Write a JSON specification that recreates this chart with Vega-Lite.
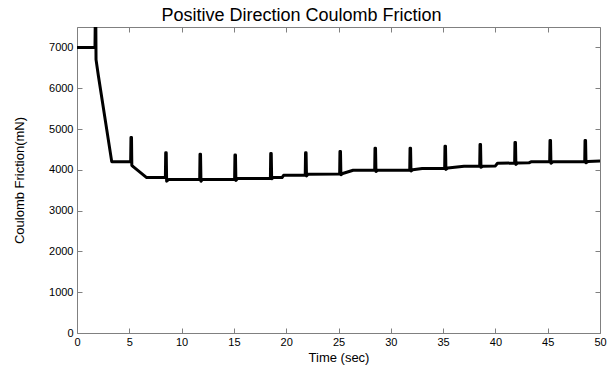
{
  "$schema": "https://vega.github.io/schema/vega-lite/v6.json",
  "autosize": {"type": "none"},
  "width": 523,
  "height": 306,
  "padding": {"left": 77, "top": 27, "right": 11, "bottom": 36},
  "background": "white",
  "config": {"view": {"stroke": null}, "font": "Liberation Sans"},
  "title": {"text": "Positive Direction Coulomb Friction", "fontSize": 18, "fontWeight": "normal", "font": "Liberation Sans", "color": "black", "anchor": "middle", "dx": -37, "offset": 2},
  "data": {"values": [
    {"t":0,"f":7000},{"t":1.72,"f":7000},{"t":1.74,"f":7500},{"t":1.80,"f":7500},{"t":1.82,"f":6700},{"t":2.04,"f":6310},{"t":3.32,"f":4200},{"t":5.13,"f":4200},
    {"t":5.16,"f":4790},{"t":5.21,"f":4790},{"t":5.24,"f":4110},{"t":5.4,"f":4070},{"t":6.66,"f":3810},{"t":8.45,"f":3810},
    {"t":8.48,"f":4420},{"t":8.53,"f":4420},{"t":8.57,"f":3720},{"t":8.75,"f":3760},{"t":11.73,"f":3760},
    {"t":11.76,"f":4380},{"t":11.81,"f":4380},{"t":11.85,"f":3720},{"t":12.0,"f":3765},{"t":15.07,"f":3765},
    {"t":15.1,"f":4360},{"t":15.15,"f":4360},{"t":15.19,"f":3740},{"t":15.35,"f":3785},{"t":18.49,"f":3785},
    {"t":18.52,"f":4400},{"t":18.57,"f":4400},{"t":18.61,"f":3780},{"t":18.75,"f":3810},{"t":19.6,"f":3810},{"t":19.75,"f":3865},{"t":21.82,"f":3870},
    {"t":21.85,"f":4420},{"t":21.9,"f":4420},{"t":21.94,"f":3850},{"t":22.1,"f":3890},{"t":25.11,"f":3900},
    {"t":25.14,"f":4450},{"t":25.19,"f":4450},{"t":25.23,"f":3880},{"t":25.4,"f":3910},{"t":26.4,"f":3990},{"t":28.46,"f":3990},
    {"t":28.49,"f":4530},{"t":28.54,"f":4530},{"t":28.58,"f":3960},{"t":28.75,"f":3990},{"t":31.81,"f":3995},
    {"t":31.84,"f":4530},{"t":31.89,"f":4530},{"t":31.93,"f":3970},{"t":32.1,"f":4000},{"t":33.0,"f":4030},{"t":35.15,"f":4035},
    {"t":35.18,"f":4575},{"t":35.23,"f":4575},{"t":35.27,"f":4010},{"t":35.45,"f":4045},{"t":37.0,"f":4085},{"t":38.5,"f":4085},
    {"t":38.53,"f":4620},{"t":38.58,"f":4620},{"t":38.62,"f":4060},{"t":38.8,"f":4090},{"t":40.0,"f":4095},{"t":40.2,"f":4160},{"t":41.84,"f":4165},
    {"t":41.87,"f":4670},{"t":41.92,"f":4670},{"t":41.96,"f":4130},{"t":42.1,"f":4165},{"t":43.2,"f":4170},{"t":43.4,"f":4195},{"t":45.19,"f":4195},
    {"t":45.22,"f":4720},{"t":45.27,"f":4720},{"t":45.31,"f":4160},{"t":45.5,"f":4195},{"t":48.54,"f":4200},
    {"t":48.57,"f":4720},{"t":48.62,"f":4720},{"t":48.66,"f":4170},{"t":48.85,"f":4205},{"t":50,"f":4215}
  ]},
  "layer": [
    {
      "mark": {"type": "line", "color": "black", "strokeWidth": 3, "clip": true, "strokeJoin": "round", "strokeCap": "butt"},
      "encoding": {
        "x": {"field": "t", "type": "quantitative", "scale": {"domain": [0, 50], "nice": false, "zero": false},
          "axis": {"orient": "bottom", "values": [0,5,10,15,20,25,30,35,40,45,50], "title": "Time (sec)", "titleFontSize": 13, "titleFont": "Liberation Sans", "titleFontWeight": "normal", "titleColor": "black", "titlePadding": 4, "labelFontSize": 11, "labelColor": "black", "labelFont": "Liberation Sans", "tickSize": -5, "labelPadding": 8, "domainColor": "#808080", "tickColor": "#808080", "grid": false, "labelFlush": false}},
        "y": {"field": "f", "type": "quantitative", "scale": {"domain": [0, 7500], "nice": false},
          "axis": {"orient": "left", "values": [0,1000,2000,3000,4000,5000,6000,7000], "title": "Coulomb Friction(mN)", "titleFontSize": 13, "titleFont": "Liberation Sans", "titleFontWeight": "normal", "titleColor": "black", "titlePadding": 22, "labelFontSize": 11, "labelColor": "black", "labelFont": "Liberation Sans", "tickSize": -5, "labelPadding": 9, "domainColor": "#808080", "tickColor": "#808080", "grid": false, "format": "d"}}
      }
    },
    {
      "mark": {"type": "line", "opacity": 0},
      "encoding": {
        "x": {"field": "t", "type": "quantitative", "axis": {"orient": "top", "values": [0,5,10,15,20,25,30,35,40,45,50], "labels": false, "title": null, "tickSize": -5, "domainColor": "#808080", "tickColor": "#808080", "grid": false}},
        "y": {"field": "f", "type": "quantitative", "axis": {"orient": "right", "values": [0,1000,2000,3000,4000,5000,6000,7000], "labels": false, "title": null, "tickSize": -5, "domainColor": "#808080", "tickColor": "#808080", "grid": false}}
      }
    }
  ],
  "resolve": {"axis": {"x": "independent", "y": "independent"}}
}
